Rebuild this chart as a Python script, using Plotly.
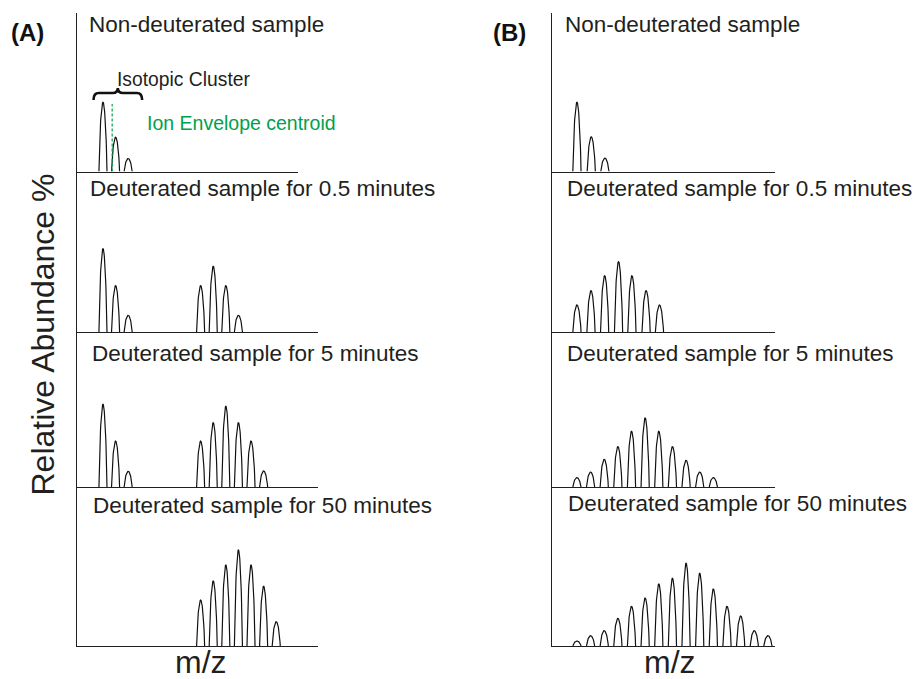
import numpy as np
import plotly.graph_objects as go

W, H = 915, 679

# ---------------- data ----------------
row_titles = ["Non-deuterated sample",
              "Deuterated sample for 0.5 minutes",
              "Deuterated sample for 5 minutes",
              "Deuterated sample for 50 minutes"]
panel_labels = ["(A)", "(B)"]
x_title = "m/z"
y_title = "Relative Abundance %"
cluster_label = "Isotopic Cluster"
centroid_label = "Ion Envelope centroid"

# Panel A  (m/z in isotope-spacing units, intensity in relative units)
a1_mz = [2.1, 3.1, 4.1]
a1_int = [69.3, 34.3, 13.0]
a2_mz = [2.1, 3.1, 4.1, 9.85, 10.85, 11.85, 12.85]
a2_int = [83.4, 46.4, 16.7, 46.4, 65.7, 46.4, 16.7]
a3_mz = [2.1, 3.1, 4.1, 9.85, 10.85, 11.85, 12.85, 13.85, 14.85]
a3_int = [82.7, 46.0, 15.7, 46.0, 64.4, 80.7, 64.4, 46.0, 16.0]
a4_mz = [9.85, 10.85, 11.85, 12.85, 13.85, 14.85, 15.85]
a4_int = [46.0, 65.0, 81.0, 96.0, 81.0, 59.7, 24.3]

# Panel B
b1_mz = [1.85, 2.9, 3.9]
b1_int = [69.3, 34.7, 13.3]
b2_mz = [1.85, 2.88, 3.88, 4.9, 5.88, 6.92, 7.9]
b2_int = [27.0, 41.3, 56.3, 70.3, 56.3, 41.3, 27.0]
b3_mz = [1.85, 2.85, 3.85, 4.85, 5.85, 6.85, 7.85, 8.85, 9.85, 10.85, 11.85]
b3_int = [9.4, 15.0, 27.7, 40.4, 55.7, 69.0, 55.7, 40.4, 26.7, 15.0, 9.4]
b4_mz = [1.85, 2.85, 3.85, 4.85, 5.85, 6.85, 7.85, 8.85, 9.85, 10.85,
         11.85, 12.85, 13.85, 14.85, 15.85]
b4_int = [5.0, 10.3, 15.3, 27.7, 39.7, 48.0, 62.0, 67.7, 82.7, 72.7,
          57.0, 39.7, 30.0, 15.3, 10.3]

centroid_mz = 2.83      # Ion envelope centroid of the non-deuterated cluster
centroid_top = 67.5

spectra = [[(a1_mz, a1_int), (a2_mz, a2_int), (a3_mz, a3_int), (a4_mz, a4_int)],
           [(b1_mz, b1_int), (b2_mz, b2_int), (b3_mz, b3_int), (b4_mz, b4_int)]]

# ---------------- layout geometry (pixels) ----------------
FONT = "Liberation Sans, Arial, Helvetica, sans-serif"
TXT = "#231f20"
GREEN = "#00a14b"

axis_left = [76.5, 551.7]
axis_right = [[298.3, 318, 318, 318], [775, 775, 775, 775]]
px_per_unit = [12.6, 13.64]
half_width = [0.32, 0.30]
row_edges = [13, 171.5, 332, 487, 646]   # top of panel, then baselines

def px(x):
    return x / W

def py(y):
    return 1 - y / H

def peak_profile(mz, inten, hw):
    xs, ys = [], []
    t = np.linspace(-1, 1, 41)
    for c, h in zip(mz, inten):
        xs.extend(list(c + hw * t) + [None])
        ys.extend(list(h * (1 - t ** 2) ** 0.8) + [None])
    return xs, ys

fig = go.Figure()
layout = dict(width=W, height=H, margin=dict(l=0, r=0, t=0, b=0),
              paper_bgcolor="white", plot_bgcolor="white",
              showlegend=False, hovermode=False)

for p in range(2):
    for r in range(4):
        idx = p * 4 + r + 1
        sfx = "" if idx == 1 else str(idx)
        mz, inten = spectra[p][r]
        xs, ys = peak_profile(mz, inten, half_width[p])
        fig.add_trace(go.Scatter(x=xs, y=ys, mode="lines",
                                 line=dict(color="#111111", width=1.2),
                                 xaxis="x" + sfx, yaxis="y" + sfx))
        top, bot = row_edges[r], row_edges[r + 1]
        xr = (axis_right[p][r] - axis_left[p]) / px_per_unit[p]
        layout["xaxis" + sfx] = dict(domain=[px(axis_left[p]), px(axis_right[p][r])],
                                     range=[0, xr], anchor="y" + sfx,
                                     showline=True, linecolor=TXT, linewidth=1.3,
                                     showgrid=False, zeroline=False, ticks="",
                                     showticklabels=False, fixedrange=True)
        layout["yaxis" + sfx] = dict(domain=[py(bot), py(top)],
                                     range=[0, bot - top], anchor="x" + sfx,
                                     showline=True, linecolor=TXT, linewidth=1.3,
                                     showgrid=False, zeroline=False, ticks="",
                                     showticklabels=False, fixedrange=True)

fig.update_layout(**layout)

# ---------------- annotations ----------------
title_pos = [[(87, 25), (88, 188), (89.5, 353), (90.5, 505)],
             [(563, 25), (565, 188), (565, 353), (565.5, 503)]]
for p in range(2):
    for r in range(4):
        x0, y0 = title_pos[p][r]
        fig.add_annotation(text=row_titles[r], x=px(x0), y=py(y0),
                           xref="paper", yref="paper", xanchor="left",
                           yanchor="middle", showarrow=False,
                           font=dict(family=FONT, size=22.5, color=TXT))

for lab, cx in zip(panel_labels, [27.5, 510]):
    fig.add_annotation(text="<b>%s</b>" % lab, x=px(cx), y=py(32),
                       xref="paper", yref="paper", xanchor="center",
                       yanchor="middle", showarrow=False,
                       font=dict(family=FONT, size=24, color="#111111"))

for cx in [201, 670]:
    fig.add_annotation(text=x_title, x=px(cx), y=0, yshift=-3,
                       xref="paper", yref="paper", xanchor="center",
                       yanchor="bottom", showarrow=False,
                       font=dict(family=FONT, size=32, color=TXT))

fig.add_annotation(text=y_title, x=px(42.5), y=py(335), textangle=-90,
                   xref="paper", yref="paper", xanchor="center",
                   yanchor="middle", showarrow=False,
                   font=dict(family=FONT, size=32, color=TXT))

fig.add_annotation(text=cluster_label, x=px(114.7), y=py(79),
                   xref="paper", yref="paper", xanchor="left",
                   yanchor="middle", showarrow=False,
                   font=dict(family=FONT, size=19.3, color=TXT))
fig.add_annotation(text=centroid_label, x=px(144.7), y=py(123),
                   xref="paper", yref="paper", xanchor="left",
                   yanchor="middle", showarrow=False,
                   font=dict(family=FONT, size=19.5, color=GREEN))

# centroid dashed line (row 1 of panel A)
fig.add_shape(type="line", xref="x", yref="y", x0=centroid_mz, x1=centroid_mz,
              y0=0, y1=centroid_top,
              line=dict(color=GREEN, width=1.2, dash="3px,2px"))

# curly brace over the isotopic cluster (row 1 of panel A, data coords)
bx0, bx1 = 1.35, 5.21
bxt = (bx0 + bx1) / 2
yb, ym, yt = 71.5, 78.5, 83.5
a = 0.42
path = (f"M {bx0},{yb} Q {bx0},{ym} {bx0 + a},{ym} L {bxt - a},{ym} "
        f"Q {bxt},{ym} {bxt},{yt} Q {bxt},{ym} {bxt + a},{ym} "
        f"L {bx1 - a},{ym} Q {bx1},{ym} {bx1},{yb}")
fig.add_shape(type="path", xref="x", yref="y", path=path,
              line=dict(color="#111111", width=2.6))

fig.write_html("out.html",
               config={"displayModeBar": False},
               post_script="document.body.style.margin='0';"
                           "document.body.style.overflow='hidden';")
